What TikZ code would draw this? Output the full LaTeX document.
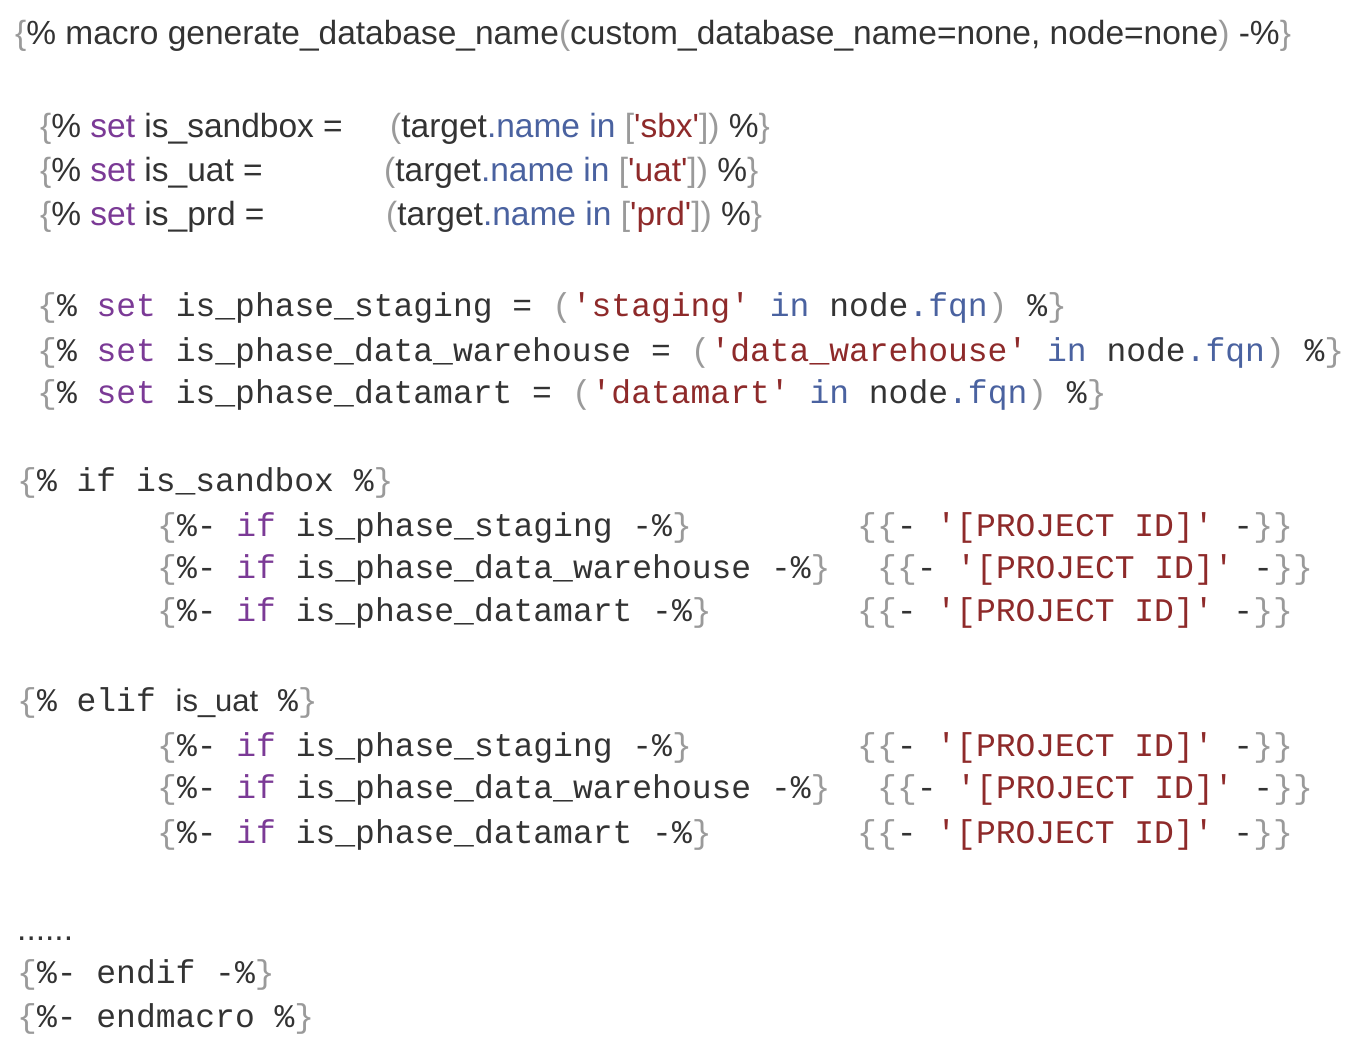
\documentclass[tikz,border=0pt]{standalone}
\usepackage{fontspec}
\setmainfont{Liberation Sans}
\setmonofont{Liberation Mono}
\definecolor{br}{HTML}{9A9A9A}
\definecolor{kw}{HTML}{7B3A96}
\definecolor{bl}{HTML}{4A62A0}
\definecolor{st}{HTML}{8E2A2A}
\definecolor{tx}{HTML}{333333}
\newcommand{\G}[1]{\textcolor{br}{#1}}
\newcommand{\K}[1]{\textcolor{kw}{#1}}
\newcommand{\B}[1]{\textcolor{bl}{#1}}
\newcommand{\Sx}[1]{\textcolor{st}{#1}}
\newcommand{\q}{\textquotesingle}
\begin{document}
\begin{tikzpicture}[x=1pt,y=1pt,
  sa/.style={anchor=base west,inner sep=0pt,text=tx,font=\fontsize{33.5}{34}\selectfont},
  mo/.style={anchor=base west,inner sep=0pt,text=tx,font=\fontsize{33}{34}\ttfamily}]
\useasboundingbox[fill=white] (0,0) rectangle (1359,-1054);
\node[sa] (l1) at (15,-45) {\G{\{}\%{} macro generate\_database\_name\G{(}custom\_database\_name=none, node=none\G{)} -\%\G{\}}};
\node[sa] (a1) at (40,-138) {\G{\{}\%{} \K{set} is\_sandbox =};
\node[sa] (a2) at (390,-138) {\G{(}target\B{.name in} \G{[}\Sx{\q sbx\q}\G{])} \%\G{\}}};
\node[sa] (b1) at (40,-181) {\G{\{}\%{} \K{set} is\_uat =};
\node[sa] (b2) at (384,-181) {\G{(}target\B{.name in} \G{[}\Sx{\q uat\q}\G{])} \%\G{\}}};
\node[sa] (c1) at (40,-225) {\G{\{}\%{} \K{set} is\_prd =};
\node[sa] (c2) at (386,-225) {\G{(}target\B{.name in} \G{[}\Sx{\q prd\q}\G{])} \%\G{\}}};
\node[mo] (d) at (37,-316) {\G{\{}\% \K{set} is\_phase\_staging = \G{(}\Sx{'staging'} \B{in} node\B{.fqn}\G{)} \%\G{\}}};
\node[mo] (e) at (37,-361) {\G{\{}\% \K{set} is\_phase\_data\_warehouse = \G{(}\Sx{'data\_warehouse'} \B{in} node\B{.fqn}\G{)} \%\G{\}}};
\node[mo] (f) at (37,-403) {\G{\{}\% \K{set} is\_phase\_datamart = \G{(}\Sx{'datamart'} \B{in} node\B{.fqn}\G{)} \%\G{\}}};
\node[mo] (g) at (17,-491) {\G{\{}\% if is\_sandbox \%\G{\}}};
\node[mo] (g1) at (157,-536) {\G{\{}\%- \K{if} is\_phase\_staging -\%\G{\}}};
\node[mo] (g1r) at (857,-536) {\G{\{\{}- \Sx{'[PROJECT ID]'} -\G{\}\}}};
\node[mo] (g2) at (157,-578) {\G{\{}\%- \K{if} is\_phase\_data\_warehouse -\%\G{\}}};
\node[mo] (g2r) at (877,-578) {\G{\{\{}- \Sx{'[PROJECT ID]'} -\G{\}\}}};
\node[mo] (g3) at (157,-621) {\G{\{}\%- \K{if} is\_phase\_datamart -\%\G{\}}};
\node[mo] (g3r) at (857,-621) {\G{\{\{}- \Sx{'[PROJECT ID]'} -\G{\}\}}};
\node[mo] (h) at (17,-711) {\G{\{}\% elif {\fontspec{Liberation Sans}\fontsize{31}{32}\selectfont is\_uat} \%\G{\}}};
\node[mo] (h1) at (157,-756) {\G{\{}\%- \K{if} is\_phase\_staging -\%\G{\}}};
\node[mo] (h1r) at (857,-756) {\G{\{\{}- \Sx{'[PROJECT ID]'} -\G{\}\}}};
\node[mo] (h2) at (157,-798) {\G{\{}\%- \K{if} is\_phase\_data\_warehouse -\%\G{\}}};
\node[mo] (h2r) at (877,-798) {\G{\{\{}- \Sx{'[PROJECT ID]'} -\G{\}\}}};
\node[mo] (h3) at (157,-843) {\G{\{}\%- \K{if} is\_phase\_datamart -\%\G{\}}};
\node[mo] (h3r) at (857,-843) {\G{\{\{}- \Sx{'[PROJECT ID]'} -\G{\}\}}};
\node[sa] (dots) at (17,-940) {......};
\node[mo] (i) at (17,-983) {\G{\{}\%- endif -\%\G{\}}};
\node[mo] (j) at (17,-1027) {\G{\{}\%- endmacro \%\G{\}}};
\end{tikzpicture}
\end{document}
